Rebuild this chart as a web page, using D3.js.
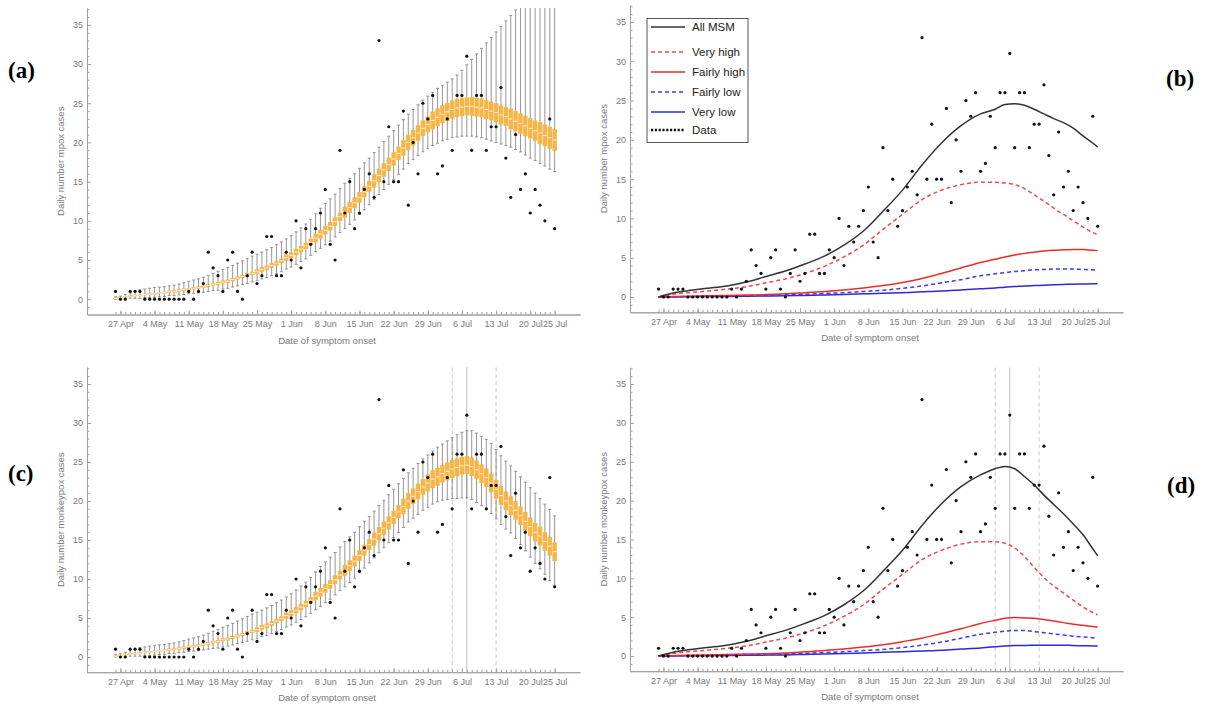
<!DOCTYPE html>
<html>
<head>
<meta charset="utf-8">
<script src="https://cdn.jsdelivr.net/npm/d3@7"></script>
<style>
  body { margin: 0; background: #fff; }
  svg text { font-family: "Liberation Sans", Arial, sans-serif; }
</style>
</head>
<body>
<svg id="chart" width="1207" height="704"></svg>
<script>
// Day index 0 = 26 Apr, 90 = 25 Jul
const tickDays = [1, 8, 15, 22, 29, 36, 43, 50, 57, 64, 71, 78, 85, 90];
const tickLabels = ['27 Apr', '4 May', '11 May', '18 May', '25 May', '1 Jun', '8 Jun',
  '15 Jun', '22 Jun', '29 Jun', '6 Jul', '13 Jul', '20 Jul', '25 Jul'];

// Observed daily cases
const cases = [1, 0, 0, 1, 1, 1, 0, 0, 0, 0,
  0, 0, 0, 0, 0, 1, 0, 1, 2, 6,
  4, 3, 1, 5, 6, 1, 0, 3, 6, 2,
  3, 8, 8, 3, 3, 6, 5, 10, 4, 9,
  7, 9, 11, 14, 7, 5, 19, 11, 15, 9,
  11, 14, 16, 13, 33, 15, 22, 15, 15, 24,
  12, 20, 16, 25, 23, 26, 16, 17, 23, 19,
  26, 26, 31, 19, 26, 26, 19, 22, 22, 27,
  18, 13, 21, 14, 16, 11, 14, 12, 10, 23,
  9];

// Panel (a) box plots
const aMed = [0.1, 0.2, 0.3, 0.4, 0.45, 0.5, 0.6, 0.65, 0.7, 0.8,
  0.85, 0.95, 1.0, 1.1, 1.2, 1.3, 1.4, 1.5, 1.6, 1.75,
  1.9, 2.0, 2.2, 2.3, 2.5, 2.7, 2.9, 3.1, 3.3, 3.5,
  3.8, 4.0, 4.3, 4.6, 4.9, 5.3, 5.6, 6.0, 6.4, 6.8,
  7.3, 7.8, 8.3, 8.8, 9.3, 9.9, 10.5, 11.1, 11.7, 12.3,
  13.0, 13.7, 14.4, 15.1, 15.8, 16.5, 17.2, 17.9, 18.6, 19.3,
  20.0, 20.6, 21.2, 21.8, 22.3, 22.8, 23.2, 23.6, 23.9, 24.2,
  24.4, 24.5, 24.6, 24.6, 24.5, 24.4, 24.2, 24.0, 23.8, 23.5,
  23.3, 23.0, 22.7, 22.4, 22.1, 21.8, 21.5, 21.2, 20.9, 20.6,
  20.3];
const aQ1 = [0, 0.1, 0.2, 0.3, 0.35, 0.4, 0.5, 0.55, 0.6, 0.7,
  0.75, 0.8, 0.85, 0.95, 1.05, 1.15, 1.25, 1.35, 1.45, 1.6,
  1.75, 1.8, 2.0, 2.1, 2.3, 2.5, 2.7, 2.9, 3.1, 3.2,
  3.5, 3.7, 4.0, 4.3, 4.6, 4.9, 5.2, 5.6, 6.0, 6.4,
  6.9, 7.25, 7.75, 8.25, 8.75, 9.35, 9.95, 10.4, 11.0, 11.6,
  12.3, 13.0, 13.7, 14.25, 14.95, 15.65, 16.35, 17.05, 17.75, 18.3,
  19.0, 19.6, 20.2, 20.8, 21.3, 21.65, 22.05, 22.45, 22.75, 23.05,
  23.25, 23.35, 23.45, 23.4, 23.3, 23.2, 23.0, 22.8, 22.6, 22.3,
  22.1, 21.7, 21.4, 21.1, 20.8, 20.5, 20.2, 19.8, 19.5, 19.2,
  18.9];
const aQ3 = [0.2, 0.3, 0.4, 0.5, 0.55, 0.6, 0.7, 0.75, 0.8, 0.9,
  0.95, 1.1, 1.15, 1.25, 1.35, 1.45, 1.55, 1.65, 1.75, 1.9,
  2.05, 2.2, 2.4, 2.5, 2.7, 2.9, 3.1, 3.3, 3.5, 3.8,
  4.1, 4.3, 4.6, 4.9, 5.2, 5.7, 6.0, 6.4, 6.8, 7.2,
  7.7, 8.35, 8.85, 9.35, 9.85, 10.45, 11.05, 11.8, 12.4, 13.0,
  13.7, 14.4, 15.1, 15.95, 16.65, 17.35, 18.05, 18.75, 19.45, 20.3,
  21.0, 21.6, 22.2, 22.8, 23.3, 23.95, 24.35, 24.75, 25.05, 25.35,
  25.55, 25.65, 25.75, 25.8, 25.7, 25.6, 25.4, 25.2, 25.0, 24.7,
  24.5, 24.3, 24.0, 23.7, 23.4, 23.1, 22.8, 22.6, 22.3, 22.0,
  21.7];
const aLo = [0, 0.05, 0.1, 0.1, 0.1, 0.1, 0.2, 0.2, 0.25, 0.3,
  0.35, 0.45, 0.45, 0.55, 0.6, 0.7, 0.75, 0.8, 0.9, 1.0,
  1.1, 1.15, 1.3, 1.4, 1.55, 1.7, 1.85, 2.0, 2.2, 2.35,
  2.6, 2.75, 3.0, 3.25, 3.5, 3.85, 4.1, 4.45, 4.8, 5.15,
  5.6, 6.05, 6.5, 6.95, 7.4, 7.95, 8.5, 9.0, 9.55, 10.1,
  10.8, 11.4, 12.05, 12.7, 13.35, 14.0, 14.65, 15.3, 15.95, 16.6,
  17.3, 17.8, 18.3, 18.8, 19.2, 19.6, 19.9, 20.2, 20.4, 20.6,
  20.7, 20.8, 20.8, 20.8, 20.7, 20.6, 20.4, 20.2, 20.0, 19.8,
  19.6, 19.4, 19.1, 18.8, 18.4, 18.0, 17.7, 17.3, 17.0, 16.6,
  16.3];
const aHi = [0.3, 0.4, 0.6, 0.9, 1.0, 1.2, 1.3, 1.4, 1.5, 1.55,
  1.6, 1.7, 1.8, 1.95, 2.1, 2.3, 2.45, 2.6, 2.8, 3.05,
  3.3, 3.55, 3.8, 4.05, 4.3, 4.6, 4.9, 5.2, 5.5, 5.75,
  6.0, 6.3, 6.6, 6.95, 7.3, 7.7, 8.1, 8.6, 9.1, 9.6,
  10.2, 10.9, 11.6, 12.2, 12.8, 13.4, 14.1, 14.8, 15.4, 16.0,
  16.7, 17.4, 18.0, 18.7, 19.4, 20.1, 20.8, 21.5, 22.2, 22.9,
  23.6, 24.2, 24.8, 25.4, 25.9, 26.4, 26.9, 27.3, 27.7, 28.1,
  28.6, 29.2, 29.9, 30.6, 31.3, 32.0, 32.7, 33.4, 34.1, 34.8,
  35.5, 36.2, 36.9, 38, 40, 40, 40, 40, 40, 40,
  40];

// Panel (c): same as (a) until 28 Jun, then its own tail (days 64-90)
const cMed = aMed.slice(0, 64).concat([22.3, 22.8, 23.1, 23.5, 23.8, 24.1, 24.3, 24.5, 24.6, 24.4,
  24.0, 23.5, 23.0, 22.3, 21.5, 20.7, 20.0, 19.4, 18.8, 18.1, 17.4, 16.7, 16.0, 15.5, 14.8, 14.2, 13.5]);
const cQ1 = aQ1.slice(0, 64).concat([21.2, 21.65, 21.95, 22.35, 22.65, 22.95, 23.15, 23.35, 23.45, 23.2,
  22.8, 22.3, 21.8, 21.1, 20.3, 19.5, 18.8, 18.2, 17.6, 16.9, 16.2, 15.5, 14.8, 14.3, 13.6, 13.0, 12.3]);
const cQ3 = aQ3.slice(0, 64).concat([23.4, 23.95, 24.25, 24.65, 24.95, 25.25, 25.45, 25.65, 25.75, 25.6,
  25.2, 24.7, 24.2, 23.5, 22.7, 21.9, 21.2, 20.6, 20.0, 19.3, 18.6, 17.9, 17.2, 16.7, 16.0, 15.4, 14.7]);
const cLo = aLo.slice(0, 64).concat([19.2, 19.6, 19.9, 20.1, 20.2, 20.3, 20.3, 20.4, 20.4, 20.2,
  19.8, 19.4, 18.9, 18.4, 17.7, 17.0, 16.4, 15.9, 15.2, 14.4, 13.6, 12.8, 12.0, 11.3, 10.6, 9.8, 9.1]);
const cHi = aHi.slice(0, 64).concat([25.9, 26.4, 26.9, 27.3, 27.7, 28.1, 28.5, 28.8, 29.0, 29.0,
  28.7, 28.3, 27.9, 27.4, 26.6, 25.8, 25.1, 24.5, 23.8, 23.1, 22.4, 21.7, 21.0, 20.3, 19.6, 18.9, 18.1]);

// Model curves (b) and (d), sampled on these days
const lineDays = [0, 3, 6, 10, 14, 18, 22, 26, 30, 34, 38, 42, 46, 50, 54, 58, 62, 66, 69, 71,
  73, 75, 77, 79, 81, 83, 85, 87, 89, 90];
const bAll = [0, 0.5, 0.8, 1.1, 1.4, 1.9, 2.6, 3.3, 4.2, 5.2, 6.6, 8.4, 10.9, 13.6, 16.8, 19.6, 21.8, 23.3, 23.9, 24.5,
  24.6, 24.4, 23.9, 23.3, 22.7, 22.2, 21.5, 20.5, 19.6, 19.1];
const bVeryHigh = [0, 0.35, 0.55, 0.75, 1.0, 1.3, 1.8, 2.3, 3.0, 3.9, 5.1, 6.6, 8.6, 10.5, 12.4, 13.6, 14.3, 14.6, 14.6, 14.5,
  14.3, 13.8, 13.0, 12.2, 11.3, 10.5, 9.7, 8.9, 8.2, 7.9];
const bFairlyHigh = [0, 0.05, 0.1, 0.15, 0.2, 0.25, 0.3, 0.4, 0.55, 0.7, 0.9, 1.15, 1.45, 1.85, 2.35, 3.0, 3.7, 4.4, 4.8, 5.1,
  5.35, 5.55, 5.7, 5.85, 5.95, 6.0, 6.05, 6.05, 5.95, 5.9];
const bFairlyLow = [0, 0.03, 0.06, 0.1, 0.13, 0.17, 0.2, 0.27, 0.35, 0.45, 0.55, 0.7, 0.85, 1.1, 1.4, 1.8, 2.2, 2.7, 2.95, 3.1,
  3.25, 3.35, 3.45, 3.5, 3.55, 3.55, 3.55, 3.5, 3.45, 3.4];
const bVeryLow = [0, 0.01, 0.03, 0.05, 0.07, 0.09, 0.12, 0.15, 0.2, 0.25, 0.32, 0.4, 0.48, 0.55, 0.65, 0.75, 0.9, 1.05, 1.15, 1.25,
  1.32, 1.4, 1.45, 1.5, 1.55, 1.6, 1.63, 1.66, 1.68, 1.7];

const dAll = [0, 0.5, 0.8, 1.1, 1.4, 1.9, 2.6, 3.3, 4.2, 5.2, 6.6, 8.4, 10.9, 13.6, 16.8, 19.6, 21.8, 23.3, 24.1, 24.4,
  24.1, 23.1, 22.0, 20.7, 19.5, 18.3, 17.0, 15.6, 13.8, 12.9];
const dVeryHigh = [0, 0.35, 0.55, 0.75, 1.0, 1.3, 1.8, 2.3, 3.0, 3.9, 5.1, 6.6, 8.6, 10.5, 12.4, 13.6, 14.4, 14.7, 14.7, 14.5,
  13.9, 12.8, 11.4, 10.1, 9.0, 8.1, 7.2, 6.3, 5.6, 5.3];
const dFairlyHigh = [0, 0.05, 0.1, 0.15, 0.2, 0.25, 0.3, 0.4, 0.55, 0.7, 0.9, 1.15, 1.45, 1.85, 2.3, 2.9, 3.5, 4.2, 4.6, 4.85,
  4.95, 4.9, 4.85, 4.7, 4.5, 4.3, 4.1, 3.95, 3.8, 3.7];
const dFairlyLow = [0, 0.03, 0.06, 0.1, 0.13, 0.17, 0.2, 0.27, 0.35, 0.45, 0.55, 0.7, 0.85, 1.1, 1.4, 1.8, 2.3, 2.8, 3.05, 3.2,
  3.3, 3.3, 3.15, 3.0, 2.85, 2.7, 2.55, 2.45, 2.35, 2.3];
const dVeryLow = [0, 0.01, 0.03, 0.05, 0.07, 0.09, 0.12, 0.15, 0.2, 0.25, 0.32, 0.4, 0.48, 0.55, 0.65, 0.75, 0.9, 1.05, 1.2, 1.3,
  1.35, 1.35, 1.4, 1.4, 1.4, 1.4, 1.35, 1.33, 1.3, 1.3];

// Peak day and its interval, shown in (c) and (d)
const peakDay = 72;
const peakRange = [69, 78];

const legendNames = ['All MSM', 'Very high', 'Fairly high', 'Fairly low', 'Very low', 'Data'];

const seriesStyle = [
  { color: '#333333', dash: null },
  { color: '#f04848', dash: '4,3' },
  { color: '#ee2a2a', dash: null },
  { color: '#3a3af0', dash: '4,3' },
  { color: '#2a2ad8', dash: null },
];

const svg = d3.select('#chart');
const xDomain = [-5.85, 95.2];
const yDomain = [-1.95, 37.15];
const axisColor = '#a0a0a0';
const labelColor = '#7a7a7a';

const panels = [
  { key: 'a', kind: 'box', left: 87, right: 580, top: 8, bottom: 314.5, yTitle: 'Daily number mpox cases',
    box: { lo: aLo, q1: aQ1, med: aMed, q3: aQ3, hi: aHi }, tag: [8, 78] },
  { key: 'b', kind: 'line', left: 630, right: 1123, top: 5.1, bottom: 312.3, yTitle: 'Daily number mpox cases',
    lines: [bAll, bVeryHigh, bFairlyHigh, bFairlyLow, bVeryLow], legend: true, tag: [1166, 86] },
  { key: 'c', kind: 'box', left: 87, right: 580, top: 367.2, bottom: 672.2, yTitle: 'Daily number monkeypox cases',
    box: { lo: cLo, q1: cQ1, med: cMed, q3: cQ3, hi: cHi }, peak: true, tag: [8, 481] },
  { key: 'd', kind: 'line', left: 630, right: 1123, top: 367.3, bottom: 671.2, yTitle: 'Daily number monkeypox cases',
    lines: [dAll, dVeryHigh, dFairlyHigh, dFairlyLow, dVeryLow], peak: true, tag: [1167, 493] },
];

panels.forEach(p => drawPanel(p));

function drawPanel(p) {
  const x = d3.scaleLinear().domain(xDomain).range([p.left, p.right]);
  const y = d3.scaleLinear().domain(yDomain).range([p.bottom, p.top]);
  const g = svg.append('g').attr('class', `panel-${p.key}`);

  // Clip marks to the plot area
  g.append('clipPath').attr('id', `clip-${p.key}`)
    .append('rect')
    .attr('x', p.left).attr('y', p.top)
    .attr('width', p.right - p.left).attr('height', p.bottom - p.top);
  const plot = g.append('g').attr('clip-path', `url(#clip-${p.key})`);

  // Peak date and its interval
  if (p.peak) {
    plot.selectAll('line.peak-range')
      .data(peakRange)
      .enter().append('line')
      .attr('x1', d => x(d)).attr('x2', d => x(d))
      .attr('y1', p.top).attr('y2', p.bottom)
      .attr('stroke', '#c8c8c8').attr('stroke-dasharray', '4,3').attr('stroke-width', 1);
    plot.append('line')
      .attr('x1', x(peakDay)).attr('x2', x(peakDay))
      .attr('y1', p.top).attr('y2', p.bottom)
      .attr('stroke', '#bdbdbd').attr('stroke-width', 1);
  }

  if (p.kind === 'box') {
    const days = d3.range(p.box.med.length);
    const bg = plot.append('g').attr('class', 'boxes');
    const boxes = bg.selectAll('g.box').data(days).enter().append('g').attr('class', 'box');
    boxes.append('line')
      .attr('x1', d => x(d)).attr('x2', d => x(d))
      .attr('y1', d => y(p.box.lo[d])).attr('y2', d => y(p.box.hi[d]))
      .attr('stroke', '#7c7c7c').attr('stroke-width', 0.8);
    ['lo', 'hi'].forEach(k => {
      boxes.append('line')
        .attr('x1', d => x(d) - 1.5).attr('x2', d => x(d) + 1.5)
        .attr('y1', d => y(p.box[k][d])).attr('y2', d => y(p.box[k][d]))
        .attr('stroke', '#7c7c7c').attr('stroke-width', 0.8);
    });
    boxes.append('rect')
      .attr('x', d => x(d) - 2.2).attr('width', 4.4)
      .attr('y', d => y(p.box.q3[d]))
      .attr('height', d => Math.max(0.8, y(p.box.q1[d]) - y(p.box.q3[d])))
      .attr('fill', '#f7b548');
    boxes.append('line')
      .attr('x1', d => x(d) - 1.8).attr('x2', d => x(d) + 1.8)
      .attr('y1', d => y(p.box.med[d])).attr('y2', d => y(p.box.med[d]))
      .attr('stroke', '#fff4dc').attr('stroke-width', 0.9);
  } else {
    const lineGen = d3.line()
      .x((_, i) => x(lineDays[i]))
      .y(v => y(v))
      .curve(d3.curveMonotoneX);
    // draw lowest series first so the black curve stays on top
    p.lines.map((vals, i) => ({ vals, style: seriesStyle[i] })).reverse().forEach(s => {
      plot.append('path')
        .attr('d', lineGen(s.vals))
        .attr('fill', 'none')
        .attr('stroke', s.style.color)
        .attr('stroke-width', 1.5)
        .attr('stroke-dasharray', s.style.dash);
    });
  }

  // Observed data
  plot.selectAll('circle.obs')
    .data(cases)
    .enter().append('circle')
    .attr('class', 'obs')
    .attr('cx', (_, i) => x(i))
    .attr('cy', d => y(d))
    .attr('r', 1.6)
    .attr('fill', '#111');

  // Axes: minor ticks first, then labelled ticks
  const xMinor = d3.axisBottom(x).tickValues(d3.range(0, 91)).tickSize(-2.5).tickSizeOuter(0).tickFormat('');
  const xMajor = d3.axisBottom(x).tickValues(tickDays).tickSize(-4).tickSizeOuter(0).tickPadding(6)
    .tickFormat(d => tickLabels[tickDays.indexOf(d)]);
  const yMinor = d3.axisLeft(y).tickValues(d3.range(-1, 38).filter(v => v % 5 !== 0))
    .tickSize(-2.5).tickSizeOuter(0).tickFormat('');
  const yMajor = d3.axisLeft(y).tickValues(d3.range(0, 36, 5)).tickSize(-4).tickSizeOuter(0).tickPadding(4);

  [[xMinor, 'x'], [xMajor, 'x'], [yMinor, 'y'], [yMajor, 'y']].forEach(([ax, dir]) => {
    const a = g.append('g')
      .attr('transform', dir === 'x' ? `translate(0,${p.bottom})` : `translate(${p.left},0)`)
      .call(ax);
    a.select('.domain').attr('stroke', axisColor);
    a.selectAll('.tick line').attr('stroke', axisColor);
    a.selectAll('.tick text')
      .attr('fill', labelColor)
      .style('font-size', '9px');
  });

  // Axis titles
  g.append('text')
    .attr('x', p.left + 240).attr('y', p.bottom + 29)
    .attr('text-anchor', 'middle')
    .attr('fill', labelColor)
    .style('font-size', '9.5px')
    .text('Date of symptom onset');
  g.append('text')
    .attr('transform', `translate(${p.left - 23},${(p.top + p.bottom) / 2}) rotate(-90)`)
    .attr('text-anchor', 'middle')
    .attr('fill', labelColor)
    .style('font-size', '9.5px')
    .text(p.yTitle);

  // Panel tag
  g.append('text')
    .attr('x', p.tag[0]).attr('y', p.tag[1])
    .style('font-family', '"Liberation Serif", "Times New Roman", serif')
    .style('font-weight', 'bold')
    .style('font-size', '23px')
    .attr('fill', '#000')
    .text(`(${p.key})`);

  if (p.legend) drawLegend(g);
}

function drawLegend(g) {
  const lg = g.append('g').attr('class', 'legend');
  lg.append('rect')
    .attr('x', 647).attr('y', 18.5).attr('width', 101).attr('height', 124)
    .attr('fill', '#fff').attr('stroke', '#555').attr('stroke-width', 1);
  const rowY = [27, 52, 72, 92, 112, 130];
  legendNames.forEach((name, i) => {
    const st = seriesStyle[i] || { color: '#111', dash: '2.2,1.6' };
    lg.append('line')
      .attr('x1', 651).attr('x2', 685)
      .attr('y1', rowY[i]).attr('y2', rowY[i])
      .attr('stroke', st.color)
      .attr('stroke-width', i === 5 ? 2.4 : 1.6)
      .attr('stroke-dasharray', st.dash);
    lg.append('text')
      .attr('x', 692).attr('y', rowY[i] + 4)
      .attr('fill', '#222')
      .style('font-size', '11.5px')
      .text(name);
  });
}
</script>
</body>
</html>
